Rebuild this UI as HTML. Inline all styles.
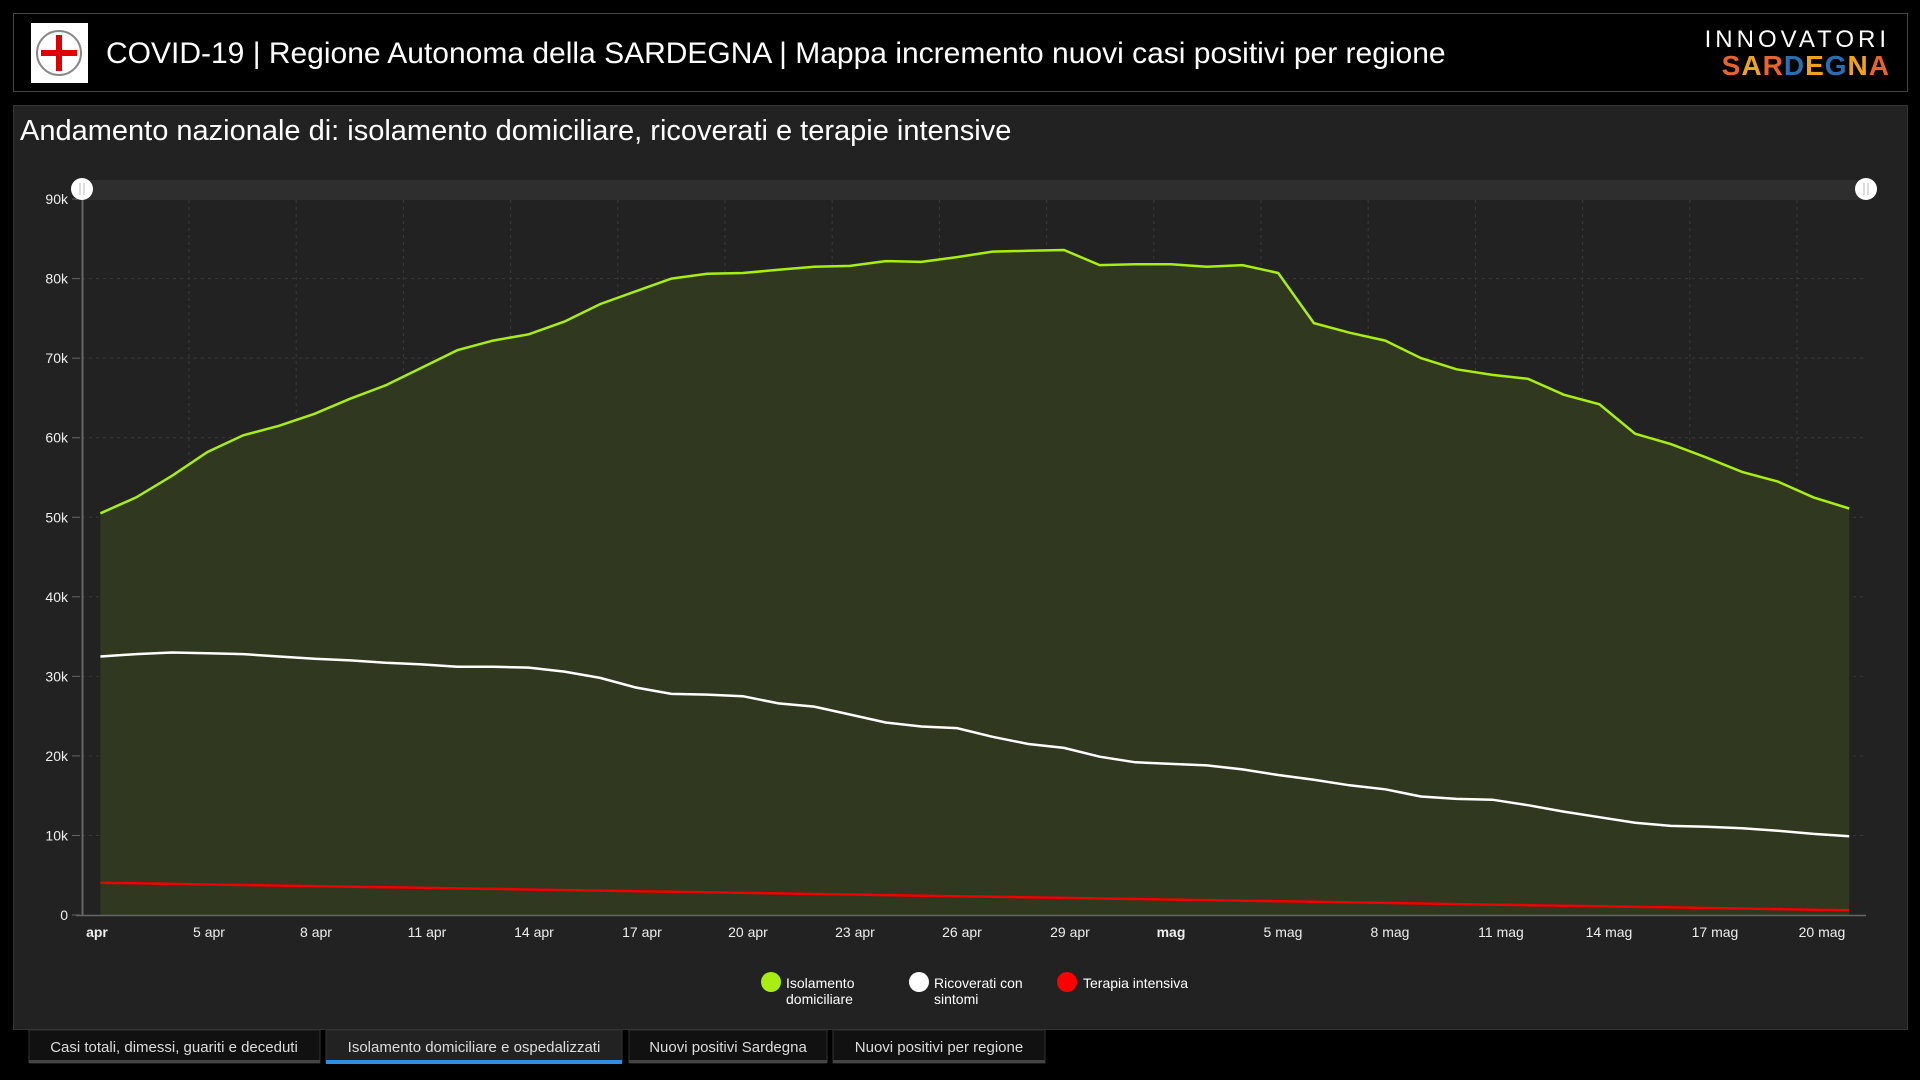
<!DOCTYPE html>
<html><head><meta charset="utf-8"><style>
html,body{margin:0;padding:0;background:#000;width:1920px;height:1080px;overflow:hidden;font-family:"Liberation Sans",sans-serif;}
</style></head><body>
<svg width="1920" height="1080" xmlns="http://www.w3.org/2000/svg" font-family="Liberation Sans, sans-serif">
<rect width="1920" height="1080" fill="#000"/>
<!-- header -->
<rect x="13.5" y="13.5" width="1894" height="78" fill="#000" stroke="#444" stroke-width="1"/>
<rect x="31" y="23" width="57" height="60" fill="#fff"/>
<circle cx="59" cy="53" r="22" fill="none" stroke="#888" stroke-width="2"/>
<rect x="56" y="35" width="6" height="36" fill="#d00"/>
<rect x="41" y="50" width="36" height="6" fill="#d00"/>
<text x="106" y="63" font-size="30" fill="#fff">COVID-19 | Regione Autonoma della SARDEGNA | Mappa incremento nuovi casi positivi per regione</text>
<text x="1890" y="47" font-size="24" fill="#fff" text-anchor="end" letter-spacing="4" font-weight="300">INNOVATORI</text>
<text x="1890" y="75" font-size="28" font-weight="bold" text-anchor="end" letter-spacing="1"><tspan fill="#e8642a">S</tspan><tspan fill="#f0a21e">A</tspan><tspan fill="#e8642a">R</tspan><tspan fill="#2a6fb3">D</tspan><tspan fill="#f0a21e">E</tspan><tspan fill="#2a6fb3">G</tspan><tspan fill="#f0a21e">N</tspan><tspan fill="#e8642a">A</tspan></text>
<!-- panel -->
<rect x="13.5" y="105.5" width="1894" height="924" fill="#222" stroke="#333"/>
<text x="20" y="140" font-size="29" fill="#fff">Andamento nazionale di: isolamento domiciliare, ricoverati e terapie intensive</text>
<!-- slider track -->
<rect x="82" y="180" width="1784" height="20" fill="#2e2e2e"/>
<!-- gridlines -->
<g stroke="#3a3a3a" stroke-width="1" stroke-dasharray="3,4" id="grid"></g>
<g id="plot"></g>
<line x1="82.5" y1="198" x2="82.5" y2="916" stroke="#666" stroke-width="2"/>
<line x1="76" y1="915.5" x2="1866" y2="915.5" stroke="#666" stroke-width="1.5"/>
<g id="yl" font-size="14" fill="#eee" text-anchor="end"></g>
<g id="xl" font-size="14" fill="#eee" text-anchor="middle"></g>
<circle cx="82" cy="189" r="11" fill="#fff"/>
<line x1="80" y1="183" x2="80" y2="195" stroke="#bbb"/><line x1="84" y1="183" x2="84" y2="195" stroke="#bbb"/>
<circle cx="1866" cy="189" r="11" fill="#fff"/>
<line x1="1864" y1="183" x2="1864" y2="195" stroke="#bbb"/><line x1="1868" y1="183" x2="1868" y2="195" stroke="#bbb"/>
<!-- legend -->
<g font-size="14" fill="#fff">
<circle cx="771" cy="982" r="10" fill="#a8ee10"/>
<text x="786" y="988">Isolamento</text><text x="786" y="1004">domiciliare</text>
<circle cx="919" cy="982" r="10" fill="#fff"/>
<text x="934" y="988">Ricoverati con</text><text x="934" y="1004">sintomi</text>
<circle cx="1067" cy="982" r="10" fill="#f00"/>
<text x="1083" y="988">Terapia intensiva</text>
</g>
<!-- tabs -->
<g font-size="15" fill="#ddd" text-anchor="middle">
<rect x="29" y="1030" width="291" height="33" fill="#111" stroke="#333"/><rect x="29" y="1060" width="291" height="3" fill="#444"/>
<text x="174" y="1052">Casi totali, dimessi, guariti e deceduti</text>
<rect x="326" y="1030" width="296" height="33" fill="#222" stroke="#333"/><rect x="326" y="1060" width="296" height="4" fill="#2f8de4"/>
<text x="474" y="1052">Isolamento domiciliare e ospedalizzati</text>
<rect x="629" y="1030" width="198" height="33" fill="#111" stroke="#333"/><rect x="629" y="1060" width="198" height="3" fill="#444"/>
<text x="728" y="1052">Nuovi positivi Sardegna</text>
<rect x="833" y="1030" width="212" height="33" fill="#111" stroke="#333"/><rect x="833" y="1060" width="212" height="3" fill="#444"/>
<text x="939" y="1052">Nuovi positivi per regione</text>
</g>
</svg>
<script>
const NS="http://www.w3.org/2000/svg";
function el(t,a,p){const e=document.createElementNS(NS,t);for(const k in a)e.setAttribute(k,a[k]);p.appendChild(e);return e;}
const g=[50.5,52.5,55.2,58.2,60.3,61.5,63,64.9,66.6,68.8,71,72.2,73,74.6,76.8,78.4,80,80.6,80.7,81.1,81.5,81.6,82.2,82.1,82.7,83.4,83.5,83.6,81.7,81.8,81.8,81.5,81.7,80.7,74.4,73.2,72.2,70,68.6,67.9,67.4,65.4,64.2,60.5,59.2,57.5,55.7,54.5,52.5,51.1];
const w=[32.5,32.8,33.0,32.9,32.8,32.5,32.2,32.0,31.7,31.5,31.2,31.2,31.1,30.6,29.8,28.6,27.8,27.7,27.5,26.6,26.2,25.2,24.2,23.7,23.5,22.4,21.5,21.0,19.9,19.2,19.0,18.8,18.3,17.6,17.0,16.3,15.8,14.9,14.6,14.5,13.8,13.0,12.3,11.6,11.2,11.1,10.9,10.6,10.2,9.9];
const r=g.map((_,i)=>4.05-3.45*i/49);
const X=i=>100.4+i*35.69, Y=v=>915-v*7.955;
const grid=document.getElementById('grid');
for(let k=1;k<9;k++){const y=Y(k*10);el('line',{x1:82,y1:y,x2:1866,y2:y},grid);}
for(let x=189;x<1866;x+=107.2){el('line',{x1:x,y1:200,x2:x,y2:915},grid);}
const plot=document.getElementById('plot');
const pts=a=>a.map((v,i)=>X(i).toFixed(1)+','+Y(v).toFixed(1)).join(' ');
el('polygon',{points:X(0)+',915 '+pts(g)+' '+X(49)+',915',fill:'#30381f'},plot);
el('polyline',{points:pts(g),fill:'none',stroke:'#a8ee10','stroke-width':2.5},plot);
el('polyline',{points:pts(w),fill:'none',stroke:'#fff','stroke-width':2.5},plot);
el('polyline',{points:pts(r),fill:'none',stroke:'#e00','stroke-width':2.5},plot);
const yl=document.getElementById('yl');
for(let k=0;k<=9;k++){const t=el('text',{x:68,y:Y(k*10)+5},yl);t.textContent=k?k*10+'k':'0';el('line',{x1:72,y1:Y(k*10),x2:80,y2:Y(k*10),stroke:'#666'},plot);}
const xl=document.getElementById('xl');
const labs=[['apr',97],['5 apr',209],['8 apr',316],['11 apr',427],['14 apr',534],['17 apr',642],['20 apr',748],['23 apr',855],['26 apr',962],['29 apr',1070],['mag',1171],['5 mag',1283],['8 mag',1390],['11 mag',1501],['14 mag',1609],['17 mag',1715],['20 mag',1822]];
labs.forEach(([s,x])=>{const t=el('text',{x:x,y:937},xl);t.textContent=s;if(s=='apr'||s=='mag')t.setAttribute('font-weight','bold');});
</script>
</body></html>
